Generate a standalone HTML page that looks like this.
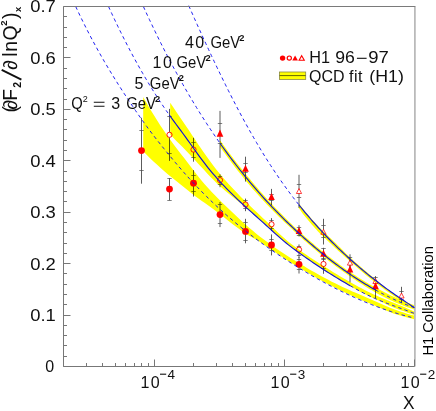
<!DOCTYPE html>
<html><head><meta charset="utf-8"><title>H1 dF2/dlnQ2</title>
<style>html,body{margin:0;padding:0;background:#fff;}body{width:436px;height:411px;position:relative;overflow:hidden;font-family:"Liberation Sans",sans-serif;}</style>
</head><body>
<svg width="436" height="411" viewBox="0 0 436 411" style="position:absolute;left:0;top:0;will-change:transform;font-family:'Liberation Sans',sans-serif">
<path d="M141.50,117.8V183.7" stroke="#4a4a4a" stroke-width="0.9" fill="none"/>
<path d="M139.30,130.5h4.4M139.30,170.5h4.4" stroke="#4a4a4a" stroke-width="0.7" fill="none"/>
<path d="M169.50,178.2V200.3" stroke="#4a4a4a" stroke-width="0.9" fill="none"/>
<path d="M167.30,178.5h4.4M167.30,200.5h4.4" stroke="#4a4a4a" stroke-width="0.7" fill="none"/>
<path d="M169.50,108.9V160.9" stroke="#4a4a4a" stroke-width="0.9" fill="none"/>
<path d="M167.30,116.5h4.4M167.30,153.5h4.4" stroke="#4a4a4a" stroke-width="0.7" fill="none"/>
<path d="M193.50,170.1V196.6" stroke="#4a4a4a" stroke-width="0.9" fill="none"/>
<path d="M191.30,175.5h4.4M191.30,191.5h4.4" stroke="#4a4a4a" stroke-width="0.7" fill="none"/>
<path d="M193.50,137.8V161.7" stroke="#4a4a4a" stroke-width="0.9" fill="none"/>
<path d="M191.30,142.5h4.4M191.30,157.5h4.4" stroke="#4a4a4a" stroke-width="0.7" fill="none"/>
<path d="M220.00,202.0V227.1" stroke="#4a4a4a" stroke-width="0.9" fill="none"/>
<path d="M217.80,204.5h4.4M217.80,223.5h4.4" stroke="#4a4a4a" stroke-width="0.7" fill="none"/>
<path d="M220.00,174.3V187.2" stroke="#4a4a4a" stroke-width="0.9" fill="none"/>
<path d="M217.80,176.5h4.4M217.80,184.5h4.4" stroke="#4a4a4a" stroke-width="0.7" fill="none"/>
<path d="M220.00,110.9V157.9" stroke="#4a4a4a" stroke-width="0.9" fill="none"/>
<path d="M217.80,123.5h4.4M217.80,143.5h4.4" stroke="#4a4a4a" stroke-width="0.7" fill="none"/>
<path d="M245.50,218.8V243.3" stroke="#4a4a4a" stroke-width="0.9" fill="none"/>
<path d="M243.30,222.5h4.4M243.30,240.5h4.4" stroke="#4a4a4a" stroke-width="0.7" fill="none"/>
<path d="M245.50,198.6V211.2" stroke="#4a4a4a" stroke-width="0.9" fill="none"/>
<path d="M243.30,200.5h4.4M243.30,208.5h4.4" stroke="#4a4a4a" stroke-width="0.7" fill="none"/>
<path d="M245.50,156.7V181.6" stroke="#4a4a4a" stroke-width="0.9" fill="none"/>
<path d="M243.30,163.5h4.4M243.30,172.5h4.4" stroke="#4a4a4a" stroke-width="0.7" fill="none"/>
<path d="M271.50,234.4V255.4" stroke="#4a4a4a" stroke-width="0.9" fill="none"/>
<path d="M269.30,239.5h4.4M269.30,250.5h4.4" stroke="#4a4a4a" stroke-width="0.7" fill="none"/>
<path d="M271.50,218.1V231.0" stroke="#4a4a4a" stroke-width="0.9" fill="none"/>
<path d="M269.30,220.5h4.4M269.30,228.5h4.4" stroke="#4a4a4a" stroke-width="0.7" fill="none"/>
<path d="M271.50,188.9V205.4" stroke="#4a4a4a" stroke-width="0.9" fill="none"/>
<path d="M269.30,194.5h4.4M269.30,200.5h4.4" stroke="#4a4a4a" stroke-width="0.7" fill="none"/>
<path d="M299.00,257.0V273.5" stroke="#4a4a4a" stroke-width="0.9" fill="none"/>
<path d="M296.80,259.5h4.4M296.80,269.5h4.4" stroke="#4a4a4a" stroke-width="0.7" fill="none"/>
<path d="M299.00,244.4V257.9" stroke="#4a4a4a" stroke-width="0.9" fill="none"/>
<path d="M296.80,246.5h4.4M296.80,255.5h4.4" stroke="#4a4a4a" stroke-width="0.7" fill="none"/>
<path d="M299.00,225.2V236.5" stroke="#4a4a4a" stroke-width="0.9" fill="none"/>
<path d="M296.80,227.5h4.4M296.80,235.5h4.4" stroke="#4a4a4a" stroke-width="0.7" fill="none"/>
<path d="M299.00,174.8V207.9" stroke="#4a4a4a" stroke-width="0.9" fill="none"/>
<path d="M296.80,184.5h4.4M296.80,197.5h4.4" stroke="#4a4a4a" stroke-width="0.7" fill="none"/>
<path d="M323.50,258.0V273.8" stroke="#4a4a4a" stroke-width="0.9" fill="none"/>
<path d="M321.30,259.5h4.4M321.30,268.5h4.4" stroke="#4a4a4a" stroke-width="0.7" fill="none"/>
<path d="M323.50,247.8V260.0" stroke="#4a4a4a" stroke-width="0.9" fill="none"/>
<path d="M321.30,248.5h4.4M321.30,258.5h4.4" stroke="#4a4a4a" stroke-width="0.7" fill="none"/>
<path d="M323.50,218.8V244.5" stroke="#4a4a4a" stroke-width="0.9" fill="none"/>
<path d="M321.30,225.5h4.4M321.30,237.5h4.4" stroke="#4a4a4a" stroke-width="0.7" fill="none"/>
<path d="M350.00,260.0V282.3" stroke="#4a4a4a" stroke-width="0.9" fill="none"/>
<path d="M350.00,254.3V272.0" stroke="#4a4a4a" stroke-width="0.9" fill="none"/>
<path d="M347.80,257.5h4.4" stroke="#4a4a4a" stroke-width="0.7" fill="none"/>
<path d="M375.50,279.5V298.3" stroke="#4a4a4a" stroke-width="0.9" fill="none"/>
<path d="M375.50,276.1V288.0" stroke="#4a4a4a" stroke-width="0.9" fill="none"/>
<path d="M373.30,277.5h4.4" stroke="#4a4a4a" stroke-width="0.7" fill="none"/>
<path d="M401.50,286.8V302.8" stroke="#4a4a4a" stroke-width="0.9" fill="none"/>
<path d="M399.30,291.5h4.4M399.30,299.5h4.4" stroke="#4a4a4a" stroke-width="0.7" fill="none"/>
<path d="M299.00,188.5L301.60,193.5H296.40Z" fill="#fff" stroke="#ff0000" stroke-width="0.75"/>
<path d="M323.50,229.3L326.10,234.3H320.90Z" fill="#fff" stroke="#ff0000" stroke-width="0.75"/>
<path d="M350.00,260.1L352.60,265.1H347.40Z" fill="#fff" stroke="#ff0000" stroke-width="0.75"/>
<path d="M375.50,278.5L378.10,283.5H372.90Z" fill="#fff" stroke="#ff0000" stroke-width="0.75"/>
<path d="M401.50,293.0L404.10,298.0H398.90Z" fill="#fff" stroke="#ff0000" stroke-width="0.75"/>
<path d="M220.00,129.6L223.30,136.7H216.70Z" fill="#ff0000"/>
<path d="M245.50,164.7L248.80,171.8H242.20Z" fill="#ff0000"/>
<path d="M271.50,193.0L274.80,200.1H268.20Z" fill="#ff0000"/>
<path d="M299.00,227.0L302.30,234.1H295.70Z" fill="#ff0000"/>
<path d="M323.50,249.7L326.80,256.8H320.20Z" fill="#ff0000"/>
<path d="M350.00,265.4L353.30,272.5H346.70Z" fill="#ff0000"/>
<path d="M375.50,282.1L378.80,289.2H372.20Z" fill="#ff0000"/>
<circle cx="169.50" cy="134.8" r="2.6" fill="#fff" stroke="#ff0000" stroke-width="0.9"/>
<circle cx="193.50" cy="149.6" r="2.6" fill="#fff" stroke="#ff0000" stroke-width="0.9"/>
<circle cx="220.00" cy="180.1" r="2.6" fill="#fff" stroke="#ff0000" stroke-width="0.9"/>
<circle cx="245.50" cy="204.5" r="2.6" fill="#fff" stroke="#ff0000" stroke-width="0.9"/>
<circle cx="271.50" cy="224.3" r="2.6" fill="#fff" stroke="#ff0000" stroke-width="0.9"/>
<circle cx="299.00" cy="249.6" r="2.6" fill="#fff" stroke="#ff0000" stroke-width="0.9"/>
<circle cx="323.50" cy="264.0" r="2.6" fill="#fff" stroke="#ff0000" stroke-width="0.9"/>
<circle cx="141.50" cy="150.6" r="3.4" fill="#ff0000"/>
<circle cx="169.50" cy="189.1" r="3.4" fill="#ff0000"/>
<circle cx="193.50" cy="183.2" r="3.4" fill="#ff0000"/>
<circle cx="220.00" cy="214.6" r="3.4" fill="#ff0000"/>
<circle cx="245.50" cy="231.4" r="3.4" fill="#ff0000"/>
<circle cx="271.50" cy="245.0" r="3.4" fill="#ff0000"/>
<circle cx="299.00" cy="264.3" r="3.4" fill="#ff0000"/>
<g style="mix-blend-mode:multiply">
<path d="M143.20,96.97 L146.63,103.03 L150.06,108.91 L153.48,114.60 L156.91,120.10 L160.34,125.43 L163.77,130.57 L167.19,135.52 L170.62,140.31 L174.05,144.95 L177.48,149.48 L180.91,153.93 L184.33,158.35 L187.76,162.76 L191.19,167.25 L194.62,171.83 L198.05,176.27 L201.47,180.40 L204.90,184.38 L208.33,188.21 L211.76,191.93 L215.18,195.53 L218.61,199.01 L222.04,202.39 L225.47,205.71 L228.90,208.99 L232.32,212.26 L235.75,215.55 L239.18,218.81 L242.61,221.98 L246.04,225.01 L249.46,227.95 L252.89,230.84 L256.32,233.65 L259.75,236.39 L263.17,239.05 L266.60,241.61 L270.03,244.08 L273.46,246.50 L276.89,248.88 L280.31,251.21 L283.74,253.48 L287.17,255.71 L290.60,257.90 L294.03,260.07 L297.45,262.20 L300.88,264.30 L304.31,266.36 L307.74,268.40 L311.16,270.40 L314.59,272.36 L318.02,274.30 L321.45,276.19 L324.88,278.06 L328.30,279.87 L331.73,281.63 L335.16,283.35 L338.59,285.03 L342.02,286.67 L345.44,288.29 L348.87,289.85 L352.30,291.38 L355.73,292.86 L359.15,294.33 L362.58,295.77 L366.01,297.24 L369.44,298.76 L372.87,300.32 L376.29,301.86 L379.72,303.36 L383.15,304.81 L386.58,306.27 L390.01,307.68 L393.43,309.02 L396.86,310.27 L400.29,311.45 L403.72,312.58 L407.14,313.65 L410.57,314.65 L414.00,315.59 L414.00,319.21 L410.57,318.36 L407.14,317.47 L403.72,316.52 L400.29,315.53 L396.86,314.49 L393.43,313.38 L390.01,312.09 L386.58,310.67 L383.15,309.20 L379.72,307.76 L376.29,306.32 L372.87,304.83 L369.44,303.35 L366.01,301.89 L362.58,300.47 L359.15,299.01 L355.73,297.51 L352.30,295.97 L348.87,294.40 L345.44,292.79 L342.02,291.15 L338.59,289.47 L335.16,287.76 L331.73,286.02 L328.30,284.24 L324.88,282.43 L321.45,280.58 L318.02,278.70 L314.59,276.78 L311.16,274.84 L307.74,272.86 L304.31,270.84 L300.88,268.79 L297.45,266.71 L294.03,264.60 L290.60,262.45 L287.17,260.27 L283.74,258.06 L280.31,255.82 L276.89,253.56 L273.46,251.26 L270.03,248.93 L266.60,246.57 L263.17,244.18 L259.75,241.84 L256.32,239.77 L252.89,237.85 L249.46,235.92 L246.04,233.83 L242.61,231.50 L239.18,229.06 L235.75,226.52 L232.32,223.92 L228.90,221.26 L225.47,218.57 L222.04,215.87 L218.61,213.19 L215.18,210.55 L211.76,207.96 L208.33,205.43 L204.90,203.08 L201.47,200.77 L198.05,198.31 L194.62,195.69 L191.19,192.98 L187.76,190.23 L184.33,187.47 L180.91,184.74 L177.48,182.01 L174.05,179.26 L170.62,176.47 L167.19,173.63 L163.77,170.70 L160.34,167.69 L156.91,164.61 L153.48,161.45 L150.06,158.19 L146.63,154.81 L143.20,151.31Z" fill="#ffff00" stroke="none"/>
<path d="M170.20,102.71 L173.29,107.33 L176.37,111.88 L179.46,116.39 L182.54,120.91 L185.63,125.46 L188.72,130.05 L191.80,134.68 L194.89,139.31 L197.97,143.92 L201.06,148.46 L204.15,152.90 L207.23,157.25 L210.32,161.51 L213.41,165.66 L216.49,169.65 L219.58,173.49 L222.66,177.16 L225.75,180.72 L228.84,184.18 L231.92,187.55 L235.01,190.82 L238.09,194.02 L241.18,197.15 L244.27,200.21 L247.35,203.23 L250.44,206.21 L253.52,209.17 L256.61,212.10 L259.70,215.02 L262.78,217.94 L265.87,220.86 L268.95,223.80 L272.04,226.76 L275.13,229.71 L278.21,232.64 L281.30,235.50 L284.38,238.26 L287.47,240.90 L290.56,243.41 L293.64,245.81 L296.73,248.12 L299.82,250.35 L302.90,252.51 L305.99,254.61 L309.07,256.66 L312.16,258.68 L315.25,260.68 L318.33,262.66 L321.42,264.63 L324.50,266.61 L327.59,268.57 L330.68,270.51 L333.76,272.42 L336.85,274.31 L339.93,276.17 L343.02,278.00 L346.11,279.80 L349.19,281.58 L352.28,283.32 L355.36,285.02 L358.45,286.68 L361.54,288.31 L364.62,289.90 L367.71,291.46 L370.79,292.98 L373.88,294.45 L376.97,295.86 L380.05,297.21 L383.14,298.51 L386.23,299.78 L389.31,301.02 L392.40,302.25 L395.48,303.49 L398.57,304.73 L401.66,306.01 L404.74,307.31 L407.83,308.65 L410.91,310.03 L414.00,311.46 L414.00,314.71 L410.91,313.69 L407.83,312.64 L404.74,311.57 L401.66,310.49 L398.57,309.38 L395.48,308.27 L392.40,307.05 L389.31,305.64 L386.23,304.13 L383.14,302.62 L380.05,301.21 L376.97,299.87 L373.88,298.48 L370.79,297.04 L367.71,295.55 L364.62,294.00 L361.54,292.40 L358.45,290.76 L355.36,289.07 L352.28,287.34 L349.19,285.58 L346.11,283.79 L343.02,281.97 L339.93,280.13 L336.85,278.26 L333.76,276.36 L330.68,274.42 L327.59,272.44 L324.50,270.43 L321.42,268.41 L318.33,266.36 L315.25,264.29 L312.16,262.19 L309.07,260.06 L305.99,257.91 L302.90,255.74 L299.82,253.55 L296.73,251.33 L293.64,249.07 L290.56,246.74 L287.47,244.33 L284.38,241.81 L281.30,239.18 L278.21,236.46 L275.13,233.68 L272.04,230.87 L268.95,228.05 L265.87,225.25 L262.78,222.49 L259.70,219.76 L256.61,217.05 L253.52,214.36 L250.44,211.66 L247.35,208.96 L244.27,206.26 L241.18,203.69 L238.09,201.25 L235.01,198.83 L231.92,196.35 L228.84,193.80 L225.75,191.22 L222.66,188.57 L219.58,185.81 L216.49,182.90 L213.41,179.85 L210.32,176.68 L207.23,173.43 L204.15,170.11 L201.06,166.75 L197.97,163.40 L194.89,160.06 L191.80,156.73 L188.72,153.41 L185.63,150.19 L182.54,147.09 L179.46,144.05 L176.37,140.99 L173.29,137.85 L170.20,134.62Z" fill="#ffff00" stroke="none"/>
<path d="M220.00,140.20 L222.46,143.66 L224.91,147.07 L227.37,150.43 L229.82,153.74 L232.28,157.00 L234.73,160.22 L237.19,163.39 L239.65,166.52 L242.10,169.60 L244.56,172.64 L247.01,175.64 L249.47,178.61 L251.92,181.54 L254.38,184.44 L256.84,187.31 L259.29,190.14 L261.75,192.94 L264.20,195.71 L266.66,198.44 L269.11,201.14 L271.57,203.80 L274.03,206.43 L276.48,209.03 L278.94,211.59 L281.39,214.11 L283.85,216.60 L286.30,219.05 L288.76,221.47 L291.22,223.85 L293.67,226.20 L296.13,228.51 L298.58,230.79 L301.04,233.03 L303.49,235.24 L305.95,237.43 L308.41,239.59 L310.86,241.72 L313.32,243.83 L315.77,245.91 L318.23,247.96 L320.68,249.98 L323.14,251.98 L325.59,253.95 L328.05,255.89 L330.51,257.80 L332.96,259.68 L335.42,261.54 L337.87,263.37 L340.33,265.17 L342.78,266.94 L345.24,268.68 L347.70,270.40 L350.15,272.08 L352.61,273.74 L355.06,275.36 L357.52,276.94 L359.97,278.49 L362.43,280.01 L364.89,281.50 L367.34,282.96 L369.80,284.39 L372.25,285.78 L374.71,287.16 L377.16,288.50 L379.62,289.82 L382.08,291.11 L384.53,292.37 L386.99,293.59 L389.44,294.79 L391.90,295.96 L394.35,297.10 L396.81,298.21 L399.27,299.28 L401.72,300.33 L404.18,301.34 L406.63,302.33 L409.09,303.28 L411.54,304.20 L414.00,305.09 L414.00,309.43 L411.54,308.62 L409.09,307.77 L406.63,306.89 L404.18,305.97 L401.72,305.02 L399.27,304.02 L396.81,302.99 L394.35,301.92 L391.90,300.82 L389.44,299.67 L386.99,298.49 L384.53,297.27 L382.08,296.01 L379.62,294.71 L377.16,293.38 L374.71,292.00 L372.25,290.58 L369.80,289.13 L367.34,287.65 L364.89,286.13 L362.43,284.59 L359.97,283.01 L357.52,281.41 L355.06,279.79 L352.61,278.15 L350.15,276.48 L347.70,274.80 L345.24,273.08 L342.78,271.34 L340.33,269.57 L337.87,267.77 L335.42,265.94 L332.96,264.08 L330.51,262.20 L328.05,260.29 L325.59,258.35 L323.14,256.38 L320.68,254.38 L318.23,252.36 L315.77,250.31 L313.32,248.23 L310.86,246.12 L308.41,243.99 L305.95,241.83 L303.49,239.64 L301.04,237.43 L298.58,235.19 L296.13,232.93 L293.67,230.66 L291.22,228.37 L288.76,226.07 L286.30,223.75 L283.85,221.40 L281.39,219.04 L278.94,216.64 L276.48,214.22 L274.03,211.77 L271.57,209.28 L269.11,206.76 L266.66,204.20 L264.20,201.60 L261.75,198.96 L259.29,196.28 L256.84,193.55 L254.38,190.77 L251.92,187.95 L249.47,185.07 L247.01,182.13 L244.56,179.14 L242.10,176.10 L239.65,173.02 L237.19,169.89 L234.73,166.72 L232.28,163.50 L229.82,160.24 L227.37,156.93 L224.91,153.57 L222.46,150.16 L220.00,146.70Z" fill="#ffff00" stroke="none"/>
<path d="M298.80,203.49 L300.26,205.31 L301.72,207.11 L303.17,208.89 L304.63,210.64 L306.09,212.38 L307.55,214.10 L309.01,215.80 L310.47,217.47 L311.92,219.13 L313.38,220.77 L314.84,222.39 L316.30,223.99 L317.76,225.57 L319.22,227.13 L320.67,228.67 L322.13,230.13 L323.59,231.52 L325.05,232.90 L326.51,234.28 L327.96,235.70 L329.42,237.15 L330.88,238.59 L332.34,240.02 L333.80,241.44 L335.26,242.86 L336.71,244.28 L338.17,245.69 L339.63,247.12 L341.09,248.57 L342.55,250.03 L344.01,251.49 L345.46,252.94 L346.92,254.38 L348.38,255.79 L349.84,257.18 L351.30,258.53 L352.75,259.87 L354.21,261.19 L355.67,262.50 L357.13,263.80 L358.59,265.08 L360.05,266.34 L361.50,267.60 L362.96,268.84 L364.42,270.08 L365.88,271.31 L367.34,272.52 L368.79,273.73 L370.25,274.94 L371.71,276.13 L373.17,277.33 L374.63,278.52 L376.09,279.71 L377.54,280.93 L379.00,282.16 L380.46,283.40 L381.92,284.63 L383.38,285.84 L384.84,287.02 L386.29,288.16 L387.75,289.26 L389.21,290.30 L390.67,291.34 L392.13,292.38 L393.58,293.40 L395.04,294.42 L396.50,295.42 L397.96,296.42 L399.42,297.42 L400.88,298.40 L402.33,299.38 L403.79,300.35 L405.25,301.32 L406.71,302.27 L408.17,303.23 L409.63,304.17 L411.08,305.11 L412.54,306.04 L414.00,306.96 L414.00,309.27 L412.54,308.36 L411.08,307.44 L409.63,306.52 L408.17,305.58 L406.71,304.65 L405.25,303.70 L403.79,302.75 L402.33,301.79 L400.88,300.82 L399.42,299.84 L397.96,298.86 L396.50,297.87 L395.04,296.87 L393.58,295.86 L392.13,294.85 L390.67,293.82 L389.21,292.79 L387.75,291.74 L386.29,290.69 L384.84,289.63 L383.38,288.56 L381.92,287.48 L380.46,286.39 L379.00,285.29 L377.54,284.18 L376.09,283.06 L374.63,281.93 L373.17,280.79 L371.71,279.64 L370.25,278.49 L368.79,277.32 L367.34,276.14 L365.88,274.95 L364.42,273.76 L362.96,272.55 L361.50,271.33 L360.05,270.10 L358.59,268.86 L357.13,267.61 L355.67,266.35 L354.21,265.07 L352.75,263.79 L351.30,262.49 L349.84,261.18 L348.38,259.87 L346.92,258.56 L345.46,257.25 L344.01,255.94 L342.55,254.62 L341.09,253.30 L339.63,251.97 L338.17,250.64 L336.71,249.30 L335.26,247.95 L333.80,246.59 L332.34,245.21 L330.88,243.83 L329.42,242.43 L327.96,241.05 L326.51,239.68 L325.05,238.32 L323.59,236.95 L322.13,235.56 L320.67,234.14 L319.22,232.68 L317.76,231.17 L316.30,229.59 L314.84,227.96 L313.38,226.32 L311.92,224.65 L310.47,222.97 L309.01,221.27 L307.55,219.56 L306.09,217.82 L304.63,216.07 L303.17,214.19 L301.72,212.17 L300.26,210.05 L298.80,207.88Z" fill="#ffff00" stroke="none"/>
</g>
<path d="M75.70,6.52 L78.55,12.58 L81.39,18.50 L84.24,24.27 L87.08,29.90 L89.93,35.40 L92.77,40.78 L95.62,46.04 L98.46,51.19 L101.31,56.23 L104.15,61.16 L107.00,66.01 L109.84,70.76 L112.69,75.43 L115.54,80.02 L118.38,84.54 L121.23,88.99 L124.07,93.38 L126.92,97.72 L129.76,102.01 L132.61,106.26 L135.45,110.46 L138.30,114.61 L141.14,118.69 L143.99,122.69 L146.83,126.60 L149.68,130.43 L152.53,134.19 L155.37,137.88 L158.22,141.51 L161.06,145.10 L163.91,148.64 L166.75,152.14 L169.60,155.61 L172.44,159.05 L175.29,162.45 L178.13,165.81 L180.98,169.12 L183.82,172.38 L186.67,175.58 L189.52,178.73 L192.36,181.83 L195.21,184.87 L198.05,187.86 L200.90,190.80 L203.74,193.69 L206.59,196.53 L209.43,199.32 L212.28,202.06 L215.12,204.76 L217.97,207.41 L220.81,210.01 L223.66,212.58 L226.51,215.10 L229.35,217.58 L232.20,220.01 L235.04,222.41 L237.89,224.77 L240.73,227.09 L243.58,229.38 L246.42,231.63 L249.27,233.84 L252.11,236.02 L254.96,238.17 L257.80,240.29 L260.65,242.37 L263.49,244.43 L266.34,246.46 L269.19,248.46 L272.03,250.43 L274.88,252.37 L277.72,254.30 L280.57,256.19 L283.41,258.07 L286.26,259.92 L289.10,261.75 L291.95,263.56 L294.79,265.35 L297.64,267.11 L300.48,268.86 L303.33,270.58 L306.18,272.28 L309.02,273.95 L311.87,275.60 L314.71,277.23 L317.56,278.84 L320.40,280.42 L323.25,281.98 L326.09,283.51 L328.94,285.02 L331.78,286.51 L334.63,287.97 L337.47,289.40 L340.32,290.81 L343.17,292.20 L346.01,293.56 L348.86,294.89 L351.70,296.20 L354.55,297.49 L357.39,298.74 L360.24,299.97 L363.08,301.18 L365.93,302.35 L368.77,303.50 L371.62,304.63 L374.46,305.72 L377.31,306.79 L380.16,307.83 L383.00,308.84 L385.85,309.83 L388.69,310.78 L391.54,311.71 L394.38,312.61 L397.23,313.48 L400.07,314.32 L402.92,315.13 L405.76,315.91 L408.61,316.67 L411.45,317.39 L414.30,318.08" stroke="#1414f0" stroke-width="0.95" stroke-dasharray="3.5 3.1" fill="none"/>
<path d="M108.50,6.49 L110.06,9.89 L111.62,13.25 L113.18,16.58 L114.75,19.88 L116.31,23.14 L117.87,26.37 L119.43,29.57 L120.99,32.73 L122.55,35.86 L124.12,38.96 L125.68,42.02 L127.24,45.05 L128.80,48.05 L130.36,51.02 L131.92,53.95 L133.48,56.85 L135.05,59.72 L136.61,62.56 L138.17,65.37 L139.73,68.14 L141.29,70.89 L142.85,73.60 L144.42,76.28 L145.98,78.93 L147.54,81.55 L149.10,84.14 L150.66,86.70 L152.22,89.23 L153.78,91.73 L155.35,94.19 L156.91,96.63 L158.47,99.04 L160.03,101.42 L161.59,103.76 L163.15,106.08 L164.72,108.37 L166.28,110.63 L167.84,112.86 L169.40,115.06" stroke="#1414f0" stroke-width="0.95" stroke-dasharray="3.5 3.1" fill="none"/>
<path d="M350.20,285.75 L352.41,287.01 L354.62,288.25 L356.83,289.48 L359.04,290.68 L361.25,291.85 L363.46,293.00 L365.67,294.12 L367.88,295.21 L370.09,296.27 L372.30,297.29 L374.51,298.27 L376.72,299.22 L378.93,300.15 L381.14,301.05 L383.36,301.93 L385.57,302.78 L387.78,303.63 L389.99,304.45 L392.20,305.27 L394.41,306.08 L396.62,306.88 L398.83,307.68 L401.04,308.48 L403.25,309.28 L405.46,310.09 L407.67,310.91 L409.88,311.74 L412.09,312.59 L414.30,313.45" stroke="#1414f0" stroke-width="0.95" stroke-dasharray="3.5 3.1" fill="none"/>
<path d="M143.40,6.58 L145.37,10.88 L147.34,15.14 L149.31,19.35 L151.28,23.52 L153.25,27.64 L155.22,31.72 L157.18,35.75 L159.15,39.73 L161.12,43.68 L163.09,47.58 L165.06,51.43 L167.03,55.25 L169.00,59.02 L170.97,62.75 L172.94,66.44 L174.91,70.09 L176.88,73.69 L178.85,77.26 L180.82,80.79 L182.78,84.27 L184.75,87.72 L186.72,91.13 L188.69,94.50 L190.66,97.83 L192.63,101.12 L194.60,104.38 L196.57,107.60 L198.54,110.78 L200.51,113.93 L202.48,117.04 L204.45,120.12 L206.42,123.16 L208.38,126.16 L210.35,129.13 L212.32,132.07 L214.29,134.97 L216.26,137.84 L218.23,140.68 L220.20,143.49" stroke="#1414f0" stroke-width="0.95" stroke-dasharray="3.5 3.1" fill="none"/>
<path d="M375.30,289.86 L377.35,290.99 L379.41,292.10 L381.46,293.19 L383.51,294.26 L385.56,295.31 L387.62,296.33 L389.67,297.34 L391.72,298.32 L393.77,299.29 L395.83,300.23 L397.88,301.14 L399.93,302.04 L401.98,302.92 L404.04,303.77 L406.09,304.60 L408.14,305.41 L410.19,306.19 L412.25,306.96 L414.30,307.70" stroke="#1414f0" stroke-width="0.95" stroke-dasharray="3.5 3.1" fill="none"/>
<path d="M188.75,5.65 L191.57,12.03 L194.40,18.36 L197.22,24.66 L200.05,30.91 L202.87,37.11 L205.70,43.27 L208.52,49.37 L211.34,55.42 L214.17,61.41 L216.99,67.34 L219.82,73.21 L222.64,79.01 L225.47,84.74 L228.29,90.40 L231.12,95.98 L233.94,101.49 L236.76,106.92 L239.59,112.26 L242.41,117.53 L245.24,122.71 L248.06,127.81 L250.89,132.82 L253.71,137.75 L256.53,142.59 L259.36,147.35 L262.18,152.01 L265.01,156.59 L267.83,161.08 L270.66,165.47 L273.48,169.78 L276.31,173.99 L279.13,178.13 L281.95,182.18 L284.78,186.14 L287.60,190.03 L290.43,193.84 L293.25,197.57 L296.08,201.23 L298.90,204.81" stroke="#1414f0" stroke-width="0.95" stroke-dasharray="3.5 3.1" fill="none"/>
<path d="M169.40,115.06 L171.69,118.24 L173.98,121.37 L176.27,124.47 L178.55,127.56 L180.84,130.65 L183.13,133.75 L185.42,136.89 L187.71,140.07 L190.00,143.28 L192.29,146.50 L194.57,149.72 L196.86,152.92 L199.15,156.08 L201.44,159.19 L203.73,162.21 L206.02,165.16 L208.31,168.02 L210.59,170.82 L212.88,173.54 L215.17,176.20 L217.46,178.79 L219.75,181.32 L222.04,183.80 L224.33,186.22 L226.62,188.60 L228.90,190.93 L231.19,193.21 L233.48,195.46 L235.77,197.67 L238.06,199.85 L240.35,202.00 L242.64,204.13 L244.92,206.23 L247.21,208.31 L249.50,210.38 L251.79,212.44 L254.08,214.49 L256.37,216.53 L258.66,218.58 L260.94,220.62 L263.23,222.67 L265.52,224.73 L267.81,226.81 L270.10,228.89 L272.39,230.99 L274.68,233.07 L276.96,235.15 L279.25,237.19 L281.54,239.19 L283.83,241.15 L286.12,243.04 L288.41,244.87 L290.70,246.65 L292.98,248.38 L295.27,250.07 L297.56,251.73 L299.85,253.37 L302.14,255.00 L304.43,256.61 L306.72,258.21 L309.01,259.79 L311.29,261.36 L313.58,262.91 L315.87,264.45 L318.16,265.97 L320.45,267.48 L322.74,268.98 L325.03,270.46 L327.31,271.92 L329.60,273.37 L331.89,274.80 L334.18,276.22 L336.47,277.63 L338.76,279.02 L341.05,280.40 L343.33,281.76 L345.62,283.10 L347.91,284.44 L350.20,285.75" stroke="#1010dc" stroke-width="1.15" fill="none"/>
<path d="M220.20,143.49 L222.16,146.25 L224.13,148.98 L226.09,151.69 L228.05,154.36 L230.02,157.00 L231.98,159.61 L233.94,162.19 L235.91,164.74 L237.87,167.26 L239.83,169.76 L241.80,172.22 L243.76,174.66 L245.72,177.07 L247.69,179.45 L249.65,181.81 L251.61,184.14 L253.58,186.44 L255.54,188.72 L257.50,190.97 L259.47,193.20 L261.43,195.41 L263.39,197.59 L265.36,199.74 L267.32,201.88 L269.28,203.98 L271.25,206.07 L273.21,208.14 L275.17,210.18 L277.14,212.20 L279.10,214.20 L281.06,216.18 L283.03,218.14 L284.99,220.08 L286.95,222.00 L288.92,223.90 L290.88,225.78 L292.84,227.64 L294.81,229.49 L296.77,231.31 L298.73,233.12 L300.69,234.91 L302.66,236.69 L304.62,238.45 L306.58,240.19 L308.55,241.91 L310.51,243.62 L312.47,245.31 L314.44,246.98 L316.40,248.63 L318.36,250.27 L320.33,251.89 L322.29,253.49 L324.25,255.07 L326.22,256.64 L328.18,258.19 L330.14,259.72 L332.11,261.23 L334.07,262.73 L336.03,264.20 L338.00,265.66 L339.96,267.10 L341.92,268.52 L343.89,269.93 L345.85,271.31 L347.81,272.68 L349.78,274.03 L351.74,275.36 L353.70,276.67 L355.67,277.96 L357.63,279.24 L359.59,280.49 L361.56,281.73 L363.52,282.95 L365.48,284.15 L367.45,285.33 L369.41,286.49 L371.37,287.63 L373.34,288.75 L375.30,289.86" stroke="#1010dc" stroke-width="1.15" fill="none"/>
<path d="M298.90,204.81 L300.86,207.26 L302.82,209.67 L304.78,212.05 L306.74,214.40 L308.71,216.72 L310.67,219.00 L312.63,221.26 L314.59,223.48 L316.55,225.67 L318.51,227.84 L320.47,229.98 L322.43,232.09 L324.39,234.17 L326.35,236.23 L328.32,238.26 L330.28,240.26 L332.24,242.24 L334.20,244.20 L336.16,246.13 L338.12,248.04 L340.08,249.93 L342.04,251.79 L344.00,253.63 L345.96,255.45 L347.93,257.25 L349.89,259.03 L351.85,260.78 L353.81,262.52 L355.77,264.23 L357.73,265.93 L359.69,267.60 L361.65,269.25 L363.61,270.89 L365.57,272.51 L367.54,274.10 L369.50,275.68 L371.46,277.24 L373.42,278.79 L375.38,280.31 L377.34,281.82 L379.30,283.31 L381.26,284.79 L383.22,286.25 L385.18,287.69 L387.15,289.12 L389.11,290.53 L391.07,291.93 L393.03,293.31 L394.99,294.68 L396.95,296.03 L398.91,297.37 L400.87,298.70 L402.83,300.02 L404.79,301.32 L406.76,302.61 L408.72,303.88 L410.68,305.15 L412.64,306.40 L414.60,307.64" stroke="#1010dc" stroke-width="1.15" fill="none"/>
<path d="M63.5,6.5H415.4" stroke="#7a7a7a" stroke-width="1" fill="none"/>
<path d="M414.95,6.5V366.5" stroke="#858585" stroke-width="1" fill="none"/>
<path d="M63.5,6.5V366.5H414.5" stroke="#777" stroke-width="1" fill="none"/>
<path d="M63.5,366.50h7M63.5,356.50h3.5M63.5,345.50h3.5M63.5,335.50h3.5M63.5,325.50h3.5M63.5,315.50h7M63.5,304.50h3.5M63.5,294.50h3.5M63.5,284.50h3.5M63.5,273.50h3.5M63.5,263.50h7M63.5,253.50h3.5M63.5,243.50h3.5M63.5,232.50h3.5M63.5,222.50h3.5M63.5,212.50h7M63.5,201.50h3.5M63.5,191.50h3.5M63.5,181.50h3.5M63.5,171.50h3.5M63.5,160.50h7M63.5,150.50h3.5M63.5,140.50h3.5M63.5,129.50h3.5M63.5,119.50h3.5M63.5,109.50h7M63.5,99.50h3.5M63.5,88.50h3.5M63.5,78.50h3.5M63.5,68.50h3.5M63.5,57.50h7M63.5,47.50h3.5M63.5,37.50h3.5M63.5,27.50h3.5M63.5,16.50h3.5M63.5,6.50h7M63.50,366.5v-3.5M86.50,366.5v-3.5M102.50,366.5v-3.5M115.50,366.5v-3.5M125.50,366.5v-3.5M134.50,366.5v-3.5M141.50,366.5v-3.5M148.50,366.5v-3.5M154.50,366.5v-7M193.50,366.5v-3.5M216.50,366.5v-3.5M232.50,366.5v-3.5M245.50,366.5v-3.5M255.50,366.5v-3.5M264.50,366.5v-3.5M271.50,366.5v-3.5M278.50,366.5v-3.5M284.50,366.5v-7M323.50,366.5v-3.5M346.50,366.5v-3.5M362.50,366.5v-3.5M375.50,366.5v-3.5M385.50,366.5v-3.5M394.50,366.5v-3.5M401.50,366.5v-3.5M408.50,366.5v-3.5M414.5,366.5v-7" stroke="#777" stroke-width="1" fill="none"/>
<text x="45.2" y="372.4" font-size="16" fill="#101010" letter-spacing="0">0</text>
<text x="30.2" y="321.0" font-size="16" fill="#101010" letter-spacing="0" textLength="25.6" lengthAdjust="spacingAndGlyphs">0.1</text>
<text x="30.2" y="269.5" font-size="16" fill="#101010" letter-spacing="0" textLength="25.6" lengthAdjust="spacingAndGlyphs">0.2</text>
<text x="30.2" y="218.1" font-size="16" fill="#101010" letter-spacing="0" textLength="25.6" lengthAdjust="spacingAndGlyphs">0.3</text>
<text x="30.2" y="166.7" font-size="16" fill="#101010" letter-spacing="0" textLength="25.6" lengthAdjust="spacingAndGlyphs">0.4</text>
<text x="30.2" y="115.3" font-size="16" fill="#101010" letter-spacing="0" textLength="25.6" lengthAdjust="spacingAndGlyphs">0.5</text>
<text x="30.2" y="63.8" font-size="16" fill="#101010" letter-spacing="0" textLength="25.6" lengthAdjust="spacingAndGlyphs">0.6</text>
<text x="30.2" y="12.4" font-size="16" fill="#101010" letter-spacing="0" textLength="25.6" lengthAdjust="spacingAndGlyphs">0.7</text>
<text x="140.5" y="388.4" font-size="16" fill="#101010" letter-spacing="1.3">10</text>
<path d="M160.0,374.2h6.2" stroke="#101010" stroke-width="1.1"/>
<text x="167.6" y="378.5" font-size="13.5" fill="#101010" letter-spacing="0">4</text>
<text x="270.6" y="388.4" font-size="16" fill="#101010" letter-spacing="1.3">10</text>
<path d="M290.1,374.2h6.2" stroke="#101010" stroke-width="1.1"/>
<text x="297.7" y="378.5" font-size="13.5" fill="#101010" letter-spacing="0">3</text>
<text x="400.6" y="388.4" font-size="16" fill="#101010" letter-spacing="1.3">10</text>
<path d="M420.1,374.2h6.2" stroke="#101010" stroke-width="1.1"/>
<text x="427.7" y="378.5" font-size="13.5" fill="#101010" letter-spacing="0">2</text>
<text x="403.0" y="409.4" font-size="18.5" fill="#101010" letter-spacing="0" textLength="11.6" lengthAdjust="spacingAndGlyphs">X</text>
<text x="71.3" y="109.3" font-size="16" fill="#101010" letter-spacing="0" textLength="11.5" lengthAdjust="spacingAndGlyphs">Q</text>
<text x="82.7" y="101.6" font-size="9.0" fill="#101010" letter-spacing="0">2</text>
<path d="M93.8,102.3H104.5M93.8,106.3H104.5" stroke="#101010" stroke-width="1.1"/>
<text x="111.3" y="109.3" font-size="16" fill="#101010" letter-spacing="0">3</text>
<text x="126.2" y="109.3" font-size="16.2" fill="#101010" letter-spacing="0" textLength="29.8" lengthAdjust="spacingAndGlyphs">GeV</text>
<text x="155.1" y="101.9" font-size="9.3" fill="#101010" letter-spacing="0" font-weight="bold">2</text>
<text x="134.4" y="88.6" font-size="16" fill="#101010" letter-spacing="0">5</text>
<text x="149.8" y="88.6" font-size="16.2" fill="#101010" letter-spacing="0" textLength="29.8" lengthAdjust="spacingAndGlyphs">GeV</text>
<text x="178.7" y="81.2" font-size="9.3" fill="#101010" letter-spacing="0" font-weight="bold">2</text>
<text x="152.5" y="68.0" font-size="16" fill="#101010" letter-spacing="1.5">10</text>
<text x="176.5" y="68.0" font-size="16.2" fill="#101010" letter-spacing="0" textLength="29.8" lengthAdjust="spacingAndGlyphs">GeV</text>
<text x="205.4" y="60.6" font-size="9.3" fill="#101010" letter-spacing="0" font-weight="bold">2</text>
<text x="185.0" y="47.9" font-size="16" fill="#101010" letter-spacing="1.4">40</text>
<text x="210.4" y="47.9" font-size="16.2" fill="#101010" letter-spacing="0" textLength="29.8" lengthAdjust="spacingAndGlyphs">GeV</text>
<text x="239.3" y="40.5" font-size="9.3" fill="#101010" letter-spacing="0" font-weight="bold">2</text>
<circle cx="282.6" cy="58.1" r="2.7" fill="#ff0000"/>
<circle cx="289.3" cy="58.1" r="2.1" fill="none" stroke="#ff0000" stroke-width="1.2"/>
<path d="M295.1,55.4L297.9,60.6H292.3Z" fill="#ff0000"/>
<path d="M301.7,55.7L304.3,60.3H299.1Z" fill="none" stroke="#ff0000" stroke-width="1.1"/>
<text x="309.2" y="63.1" font-size="16" fill="#101010" letter-spacing="0" textLength="20.8" lengthAdjust="spacingAndGlyphs">H1</text>
<text x="335.3" y="63.1" font-size="16" fill="#101010" letter-spacing="0" textLength="19.6" lengthAdjust="spacingAndGlyphs">96</text>
<path d="M356.9,58.3H366.6" stroke="#101010" stroke-width="1.1"/>
<text x="368.3" y="63.1" font-size="16" fill="#101010" letter-spacing="0" textLength="20.6" lengthAdjust="spacingAndGlyphs">97</text>
<rect x="279.5" y="72" width="26.2" height="7.4" fill="#ffff00" stroke="#8a8a40" stroke-width="0.8"/>
<path d="M279.5,75.6H305.7" stroke="#555500" stroke-width="0.9"/>
<text x="309.0" y="82.3" font-size="16" fill="#101010" letter-spacing="0" textLength="35.5" lengthAdjust="spacingAndGlyphs">QCD</text>
<text x="349.0" y="82.3" font-size="16" fill="#101010" letter-spacing="0.5">fit</text>
<text x="369.3" y="82.3" font-size="16" fill="#101010" letter-spacing="0" textLength="34.5" lengthAdjust="spacingAndGlyphs">(H1)</text>
<text transform="translate(433.3,355.6) rotate(-90)" font-size="14.7" fill="#000">H1 Collaboration</text>
<g transform="translate(17.3,112) rotate(-90)" fill="#101010" font-size="19.4"><text x="-0.5" y="0">(</text><text x="2.5" y="0">∂</text><text x="11.2" y="0">F</text><text x="24.2" y="4.1" font-size="10.5" font-weight="bold">2</text><path d="M32.3,4.1L42.1,-15.6" stroke="#101010" stroke-width="1.9"/><text x="42.2" y="0">∂</text><text x="55.3" y="0">l</text><text x="60.2" y="0">n</text><text x="71.4" y="0">Q</text><text x="86.3" y="-10.1" font-size="9.5" font-weight="bold">2</text><text x="93" y="0">)</text><text x="100" y="3.8" font-size="9.4" font-weight="bold">x</text></g>
</svg>
</body></html>
